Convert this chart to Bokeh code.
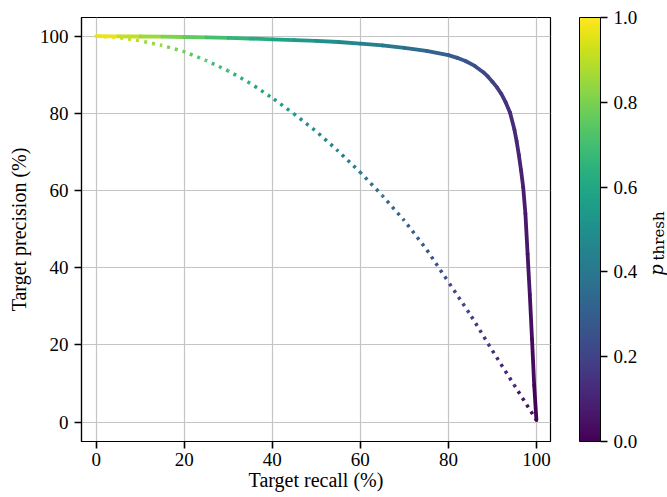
import math
from bokeh.plotting import figure
from bokeh.layouts import row
from bokeh.models import (ColumnDataSource, Range1d, LinearColorMapper, ColorBar,
                          FixedTicker, PrintfTickFormatter)
from bokeh.palettes import Viridis256
from bokeh.transform import linear_cmap
from bokeh.core.properties import value
from bokeh.embed import file_html
from bokeh.resources import INLINE

# ---------------- data ----------------
solid_recall = [0, 5, 10, 15, 20, 25, 30, 35, 40, 45, 50, 55, 60, 65, 70, 75, 80,
                82, 84, 86, 88, 89, 90, 91, 92, 93, 94, 95, 95.5, 96, 96.5, 97,
                97.5, 98, 98.5, 99, 99.5, 100]
solid_precision = [100, 99.97, 99.93, 99.88, 99.8, 99.7, 99.55, 99.4, 99.2, 99.0,
                   98.8, 98.5, 98.1, 97.6, 97.0, 96.2, 95.1,
                   94.4, 93.5, 92.3, 90.6, 89.5, 88.2, 86.8, 85.1, 82.9, 80.2, 75.8,
                   72.8, 69.3, 65.3, 60.8, 54.0, 43.5, 33.0, 21.5, 9.5, 0.5]
solid_pthresh = [1.0, 0.94, 0.88, 0.83, 0.78, 0.73, 0.68, 0.64, 0.6, 0.56, 0.52,
                 0.485, 0.45, 0.415, 0.38, 0.34, 0.3,
                 0.28, 0.26, 0.245, 0.225, 0.21, 0.2, 0.185, 0.17, 0.155, 0.14, 0.125,
                 0.115, 0.105, 0.095, 0.085, 0.075, 0.065, 0.05, 0.035, 0.02, 0.0]

dotted_recall = [0, 5, 10, 15, 20, 25, 30, 35, 40, 45, 50, 55, 60, 65, 70, 75, 80,
                 85, 90, 95, 100]
dotted_precision = [100, 99.7, 98.8, 97.6, 96.0, 93.7, 91.0, 87.8, 84.0, 79.8, 75.3,
                    70.2, 64.7, 58.7, 52.2, 44.8, 36.3, 27.8, 18.5, 9.5, 0.5]
dotted_pthresh = [0.98, 0.93, 0.88, 0.83, 0.77, 0.72, 0.67, 0.62, 0.58, 0.53, 0.48,
                  0.44, 0.4, 0.36, 0.32, 0.28, 0.24, 0.19, 0.14, 0.08, 0.02]

x_ticks = [0, 20, 40, 60, 80, 100]
y_ticks = [0, 20, 40, 60, 80, 100]
cbar_ticks = [0.0, 0.2, 0.4, 0.6, 0.8, 1.0]
cbar_label_main = "p"
cbar_label_sub = "thresh"

# ---------------- layout constants ----------------
X0, X1 = -3.35, 103.2
Y0, Y1 = -5.05, 104.85
TOTAL_W, H = 667, 497
LBL_W = 27
W = TOTAL_W - LBL_W
BL, BT, BB = 81, 17, 56
FW = 470
BR = W - BL - FW
FH = H - BT - BB
SX = FW / (X1 - X0)
SY = FH / (Y1 - Y0)

FONT = "Liberation Serif"

p = figure(width=W, height=H, x_range=Range1d(X0, X1), y_range=Range1d(Y0, Y1),
           output_backend="svg", toolbar_location=None,
           min_border_left=BL, min_border_right=BR, min_border_top=BT,
           min_border_bottom=BB)

p.background_fill_color = "white"
p.border_fill_color = "white"
p.outline_line_color = "black"
p.outline_line_width = 1.2

for ax in (p.xaxis, p.yaxis):
    ax.major_label_text_font = FONT
    ax.major_label_text_font_size = "19px"
    ax.major_label_text_color = "black"
    ax.axis_label_text_font = FONT
    ax.axis_label_text_font_size = "20px"
    ax.axis_label_text_font_style = "normal"
    ax.axis_label_text_color = "black"
    ax.major_tick_out = 7
    ax.major_tick_in = 0
    ax.major_tick_line_width = 1.6
    ax.major_tick_line_color = "black"
    ax.minor_tick_line_color = None
    ax.axis_line_color = "black"
    ax.axis_line_width = 1.2

p.xaxis.ticker = FixedTicker(ticks=x_ticks)
p.yaxis.ticker = FixedTicker(ticks=y_ticks)
p.xaxis.axis_label = "Target recall (%)"
p.yaxis.axis_label = "Target precision (%)"
p.xaxis.major_label_standoff = 4
p.xaxis.axis_label_standoff = 0
p.yaxis.major_label_standoff = 6
p.yaxis.axis_label_standoff = 7

p.xgrid.ticker = FixedTicker(ticks=x_ticks)
p.ygrid.ticker = FixedTicker(ticks=y_ticks)
p.grid.grid_line_color = "#c4c4c4"
p.grid.grid_line_width = 1.2

cmap = linear_cmap("p", Viridis256, 0, 1)

# dotted curve: coloured segments with a continuous dash phase
PERIOD = 8
dx0, dy0, dx1, dy1, dp, doff = [], [], [], [], [], []
cum = 0.0
for i in range(len(dotted_recall) - 1):
    dx0.append(dotted_recall[i]); dy0.append(dotted_precision[i])
    dx1.append(dotted_recall[i + 1]); dy1.append(dotted_precision[i + 1])
    dp.append((dotted_pthresh[i] + dotted_pthresh[i + 1]) / 2)
    doff.append(int(round(cum)) % PERIOD)
    cum += math.hypot((dotted_recall[i + 1] - dotted_recall[i]) * SX,
                      (dotted_precision[i + 1] - dotted_precision[i]) * SY)
dsrc = ColumnDataSource(dict(x0=dx0, y0=dy0, x1=dx1, y1=dy1, p=dp, off=doff))
p.segment("x0", "y0", "x1", "y1", source=dsrc, line_color=cmap, line_width=3.5,
          line_dash="3 5", line_dash_offset="off", line_cap="butt")

# solid curve
sx0, sy0, sx1, sy1, sp = [], [], [], [], []
for i in range(len(solid_recall) - 1):
    sx0.append(solid_recall[i]); sy0.append(solid_precision[i])
    sx1.append(solid_recall[i + 1]); sy1.append(solid_precision[i + 1])
    sp.append((solid_pthresh[i] + solid_pthresh[i + 1]) / 2)
ssrc = ColumnDataSource(dict(x0=sx0, y0=sy0, x1=sx1, y1=sy1, p=sp))
p.segment("x0", "y0", "x1", "y1", source=ssrc, line_color=cmap, line_width=3.8,
          line_cap="round")

# colour bar
mapper = LinearColorMapper(palette=Viridis256, low=0, high=1)
cb = ColorBar(color_mapper=mapper, ticker=FixedTicker(ticks=cbar_ticks),
              formatter=PrintfTickFormatter(format="%.1f"),
              width=21, padding=0, margin=0, location=(29, 0),
              bar_line_color="black", bar_line_width=1,
              major_tick_line_color="black", major_tick_out=7, major_tick_in=0,
              major_tick_line_width=1.6, minor_tick_line_color=None,
              major_label_text_font=FONT, major_label_text_font_size="19px",
              major_label_text_color="black", label_standoff=6,
              border_line_color=None, background_fill_color=None)
p.add_layout(cb, "right")

# narrow strip holding the rotated colour-bar label  p_thresh
p2 = figure(width=LBL_W, height=H, output_backend="svg", toolbar_location=None,
            x_range=Range1d(0, LBL_W), y_range=Range1d(0, H), min_border=0)
p2.axis.visible = False
p2.grid.visible = False
p2.outline_line_color = None
p2.background_fill_color = "white"
p2.border_fill_color = "white"
p2.text(x=[15.5], y=[H - 296], text=[cbar_label_main], angle=math.pi / 2,
        text_font=value("DejaVu Serif"), text_font_style="italic",
        text_font_size="18px", text_align="center", text_baseline="middle",
        text_color="black")
p2.text(x=[18.0], y=[H - 256], text=[cbar_label_sub], angle=math.pi / 2,
        text_font=value("DejaVu Serif"), text_font_size="15px",
        text_align="center", text_baseline="middle", text_color="black")

open("out.html", "w").write(file_html(row(p, p2), INLINE))
